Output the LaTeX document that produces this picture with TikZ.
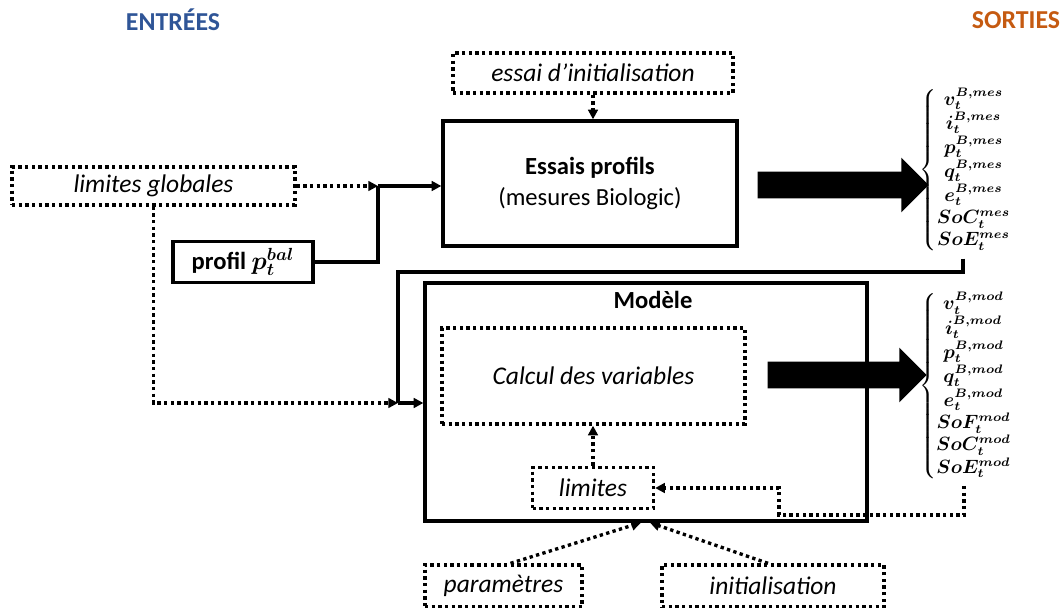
\documentclass[tikz,border=0pt]{standalone}
\usepackage{amsmath,bm}
\usepackage{fontspec}
\setmainfont{Carlito}
\usepackage{tikz}
\usetikzlibrary{arrows.meta,shapes.arrows}
\definecolor{bleuentree}{HTML}{2F5597}
\definecolor{orangesortie}{HTML}{C55A11}
\newcommand{\grandeur}[2]{\bm{#1_t^{#2}}}
\tikzset{
  trait/.style={line width=1.9pt},
  pointille/.style={draw,line width=1.9pt,dash pattern=on 1.9pt off 1.9pt},
  cadre/.style={draw,trait,font=\fontsize{14}{16}\selectfont},
  boite/.style={pointille,font=\fontsize{14.5}{17}\selectfont\itshape},
  fleche/.style={-{Triangle[length=5.5pt,width=5.5pt]}},
  grosse/.style={single arrow,fill=black,inner xsep=0pt,inner ysep=0.26cm,
    single arrow head extend=0.28cm},
  titre/.style={font=\fontsize{14.7}{17}\selectfont\bfseries},
  sortie/.style={font=\fontsize{10.5}{12}\selectfont}
}

\begin{document}
\begin{tikzpicture}[x=0.02cm,y=-0.02cm]
\useasboundingbox (0,0) rectangle (1063,608);
% titres
\node[titre,text=bleuentree] (entrees) at (173,20) {ENTRÉES};
\node[titre,text=orangesortie] (sorties) at (1016,20) {SORTIES};
% entrees
\node[boite,minimum width=5.6cm,minimum height=0.8cm] (essaiinit) at (593,73) {essai d’initialisation};
\node[boite,minimum width=5.66cm,minimum height=0.76cm] (limglob) at (153.5,186) {limites globales};
\node[cadre,minimum width=2.8cm,minimum height=0.82cm,font=\fontsize{14}{16}\selectfont\bfseries] (profil) at (243,262) {profil $\bm{p_t^{bal}}$};
\node[boite,minimum width=3.14cm,minimum height=0.84cm] (params) at (503.5,586) {paramètres};
\node[boite,minimum width=4.44cm,minimum height=0.84cm] (initial) at (773,586) {initialisation};
% essais
\node[cadre,minimum width=5.88cm,minimum height=2.5cm,align=center] (essais) at (590,183.5)
  {\textbf{Essais profils}\\[2pt](mesures Biologic)};
% modele
\node[cadre,minimum width=8.84cm,minimum height=4.76cm] (modele) at (646,402) {};
\node[font=\fontsize{14}{16}\selectfont\bfseries] (modtitre) at (653,300) {Modèle};
\node[boite,minimum width=6.06cm,minimum height=1.92cm] (calcul) at (593.5,376) {Calcul des variables};
\node[boite,minimum width=2.42cm,minimum height=0.82cm] (limites) at (593,488) {limites};
% sorties
\node[grosse,minimum height=3.42cm] (flechemes) at (836.5,185) {};
\node[grosse,minimum height=3.18cm] (flechemod) at (840.5,375) {};
\node[sortie] (sortmes) at (966,170) {$\renewcommand{\arraystretch}{1.05}\left\{\begin{array}{@{}c@{}}
  \grandeur{v}{B,mes}\\ \grandeur{i}{B,mes}\\ \grandeur{p}{B,mes}\\ \grandeur{q}{B,mes}\\
  \grandeur{e}{B,mes}\\ \grandeur{SoC}{mes}\\ \grandeur{SoE}{mes}\end{array}\right.$};
\node[sortie] (sortmod) at (966,386) {$\renewcommand{\arraystretch}{1.05}\left\{\begin{array}{@{}c@{}}
  \grandeur{v}{B,mod}\\ \grandeur{i}{B,mod}\\ \grandeur{p}{B,mod}\\ \grandeur{q}{B,mod}\\
  \grandeur{e}{B,mod}\\ \grandeur{SoF}{mod}\\ \grandeur{SoC}{mod}\\ \grandeur{SoE}{mod}\end{array}\right.$};
% points de jonction
\coordinate (jonc1) at (378,186);
\coordinate (jonc2) at (398,403);
\coordinate (coin1) at (963,272);
\coordinate (coin2) at (964,515);
\coordinate (coin3) at (779,488);
% liaisons
\draw[pointille,fleche] (essaiinit.south) -- (essaiinit.south |- essais.north);
\draw[pointille,fleche] (limglob.east) -- (jonc1);
\draw[trait,fleche] (jonc1) -- (jonc1 -| essais.west);
\draw[trait] (profil.east) -| (jonc1);
\draw[pointille,fleche] (limglob.south) |- (jonc2);
\draw[trait,fleche] (jonc2) -- (jonc2 -| modele.west);
\draw[trait] (sortmes.south -| coin1) -- (coin1) -| (jonc2);
\draw[pointille,fleche] (limites.north) -- (limites.north |- calcul.south);
\draw[pointille,fleche] (sortmod.south -| coin2) -- (coin2) -| (coin3) -- (coin3 -| limites.east);
\draw[pointille,fleche] ([xshift=0.14cm]params.north) -- ([xshift=-0.1cm]modele.south);
\draw[pointille,fleche] ([xshift=-0.1cm]initial.north) -- ([xshift=0.08cm]modele.south);
\end{tikzpicture}
\end{document}
